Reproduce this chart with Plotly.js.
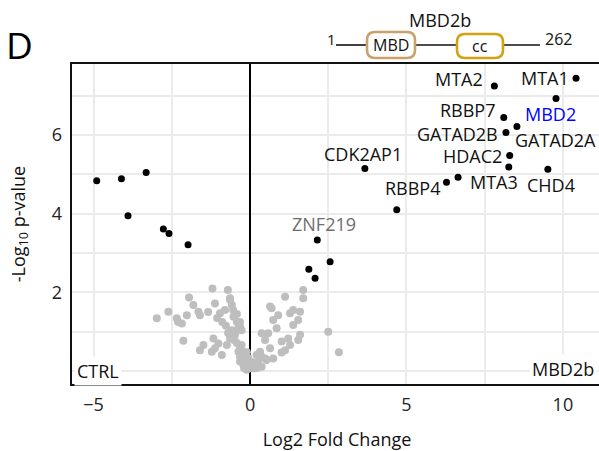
<!DOCTYPE html>
<html>
<head>
<meta charset="utf-8">
<script src="https://cdn.plot.ly/plotly-3.0.1.min.js"></script>
<style>
html,body{margin:0;padding:0;overflow:hidden;background:#fff;}
#chart{width:610px;height:451px;}
</style>
</head>
<body>
<div id="chart"></div>
<script>
// ---- Data ----
const grayX = [-1.20,-0.71,-1.95,-1.81,-2.61,-2.98,-2.34,-2.02,-1.65,-1.60,-2.18,-2.30,-1.12,-0.96,-0.80,-0.64,-0.58,-0.53,-0.42,-0.37,
  -0.58,-0.48,-0.64,-2.13,-1.17,-1.01,-1.49,-1.60,-1.22,-0.90,-0.74,-0.32,-0.37,-0.27,-0.16,-0.21,-0.11,-0.32,-1.12,-0.64,
  -0.32,-0.27,0.00,-0.11,0.05,-0.32,-0.06,0.06,0.16,-0.19,0.22,0.26,-0.10,-0.42,-0.51,-0.70,-0.77,-0.89,-1.05,-1.34,
  -0.54,-0.42,1.70,1.12,1.70,0.69,0.90,0.74,1.38,1.60,1.28,1.54,1.38,0.85,0.37,0.48,1.22,1.60,1.54,1.28,
  1.12,1.01,0.74,0.53,0.32,0.37,0.21,0.37,2.50,2.84,-0.21,-0.27,-0.32,-0.11,0.11,0.64,0.58,1.01,0.64,0.48];
const grayY = [2.10,2.06,1.87,1.68,1.51,1.34,1.34,1.42,1.51,1.42,1.21,1.25,1.72,1.47,1.55,1.81,1.68,1.38,1.25,1.09,
  1.04,0.92,0.83,0.77,0.83,0.70,0.66,0.53,0.49,0.41,0.66,0.62,0.49,0.41,0.28,0.15,0.07,0.24,0.58,1.85,
  1.13,0.66,0.07,0.03,0.15,0.36,0.33,0.23,0.13,0.08,0.08,0.23,0.48,0.71,0.79,0.97,1.15,1.25,1.35,1.50,
  1.55,1.45,2.06,1.89,1.85,1.60,1.42,1.30,1.55,1.51,1.47,1.30,1.17,1.09,0.96,0.79,0.83,0.92,0.79,0.66,
  0.53,0.47,0.32,0.28,0.49,0.36,0.41,0.11,1.00,0.48,0.49,1.04,1.25,0.24,0.07,1.64,0.96,0.75,0.58,0.32];

const hitX = [10.42,7.81,9.78,8.11,8.53,8.18,8.30,8.27,9.52,6.65,6.28,3.67,4.69,2.15,2.56,1.88,2.08,
  -4.90,-4.11,-3.32,-3.90,-2.77,-2.59,-1.98];
const hitY = [7.45,7.25,6.93,6.45,6.22,6.07,5.48,5.19,5.13,4.93,4.80,5.15,4.10,3.33,2.78,2.59,2.36,
  4.84,4.89,5.05,3.95,3.61,3.50,3.21];
const hitNames = ['MTA1','MTA2','MBD2','RBBP7','GATAD2A','GATAD2B','HDAC2','','CHD4','MTA3','RBBP4','CDK2AP1','','ZNF219','','','',
  '','','','','','',''];

const xTickVals = [-5,0,5,10];
const xMinorVals = [-2.5,2.5,7.5];
const yTickVals = [2,4,6];
const yMinorVals = [0,1,3,5,7];

// ---- Label placement (style only) ----
const place = {
  MTA1:{xanchor:'right',xshift:-5,yshift:0},
  MTA2:{xanchor:'right',xshift:-9,yshift:7},
  MBD2:{xanchor:'center',xshift:-6,yshift:-15,color:'#0000FF'},
  RBBP7:{xanchor:'right',xshift:-6,yshift:7},
  GATAD2A:{xanchor:'left',xshift:-4,yshift:-13},
  GATAD2B:{xanchor:'right',xshift:-6,yshift:-2},
  HDAC2:{xanchor:'right',xshift:-6,yshift:0},
  MTA3:{xanchor:'left',xshift:10,yshift:-5},
  CHD4:{xanchor:'center',xshift:3,yshift:-16},
  RBBP4:{xanchor:'right',xshift:-4,yshift:-6},
  CDK2AP1:{xanchor:'center',xshift:-2,yshift:15},
  ZNF219:{xanchor:'center',xshift:7,yshift:16,color:'#6e6e6e'}
};

const FONT = '"Open Sans", "Noto Sans", sans-serif';
const W = 610, H = 451;
const M = {l:72, r:8, t:64, b:67};
const PL = M.l, PR = W - M.r, PT = M.t, PB = H - M.b;
const px = p => (p - PL) / (PR - PL);
const py = p => (PB - p) / (PB - PT);

function roundRect(x0, y0, x1, y1, r) {
  const a = (X, Y) => px(X) + ',' + py(Y);
  return 'M' + a(x0 + r, y0) + ' L' + a(x1 - r, y0) + ' Q' + a(x1, y0) + ' ' + a(x1, y0 + r) +
    ' L' + a(x1, y1 - r) + ' Q' + a(x1, y1) + ' ' + a(x1 - r, y1) +
    ' L' + a(x0 + r, y1) + ' Q' + a(x0, y1) + ' ' + a(x0, y1 - r) +
    ' L' + a(x0, y0 + r) + ' Q' + a(x0, y0) + ' ' + a(x0 + r, y0) + ' Z';
}
function hline(x0, x1, y) {
  return {type:'line', xref:'paper', yref:'paper', x0:px(x0), x1:px(x1), y0:py(y), y1:py(y),
    line:{color:'#111', width:1.6}};
}

const traces = [
  {type:'scatter', mode:'markers', x:grayX, y:grayY, hoverinfo:'skip',
   marker:{color:'#BEBEBE', size:8, line:{width:0}}},
  {type:'scatter', mode:'markers', x:hitX, y:hitY, text:hitNames,
   marker:{color:'#000000', size:7, line:{width:0}}}
];

const annotations = [];
hitNames.forEach((n, i) => {
  if (!n) return;
  const p = place[n] || {xanchor:'center', xshift:0, yshift:12};
  annotations.push({x:hitX[i], y:hitY[i], xref:'x', yref:'y', text:n, showarrow:false,
    xanchor:p.xanchor, yanchor:'middle', xshift:p.xshift, yshift:p.yshift,
    font:{family:FONT, size:18, color:p.color || '#111'}});
});
// corner labels
annotations.push({xref:'paper', yref:'y', x:0, y:0, xanchor:'left', yanchor:'middle', xshift:2,
  text:'CTRL', showarrow:false, bgcolor:'#fff', borderpad:2, font:{family:FONT, size:18, color:'#111'}});
annotations.push({xref:'paper', yref:'y', x:px(597), y:0, xanchor:'right', yanchor:'middle', yshift:2,
  text:'MBD2b', showarrow:false, bgcolor:'#fff', borderpad:2, font:{family:FONT, size:18, color:'#111'}});
// panel letter
annotations.push({xref:'paper', yref:'paper', x:px(19), y:py(44), xanchor:'center', yanchor:'middle',
  text:'D', showarrow:false, font:{family:FONT, size:37, color:'#000'}});
// protein diagram texts
annotations.push({xref:'paper', yref:'paper', x:px(440), y:py(20), xanchor:'center', yanchor:'middle',
  text:'MBD2b', showarrow:false, font:{family:FONT, size:18, color:'#111'}});
annotations.push({xref:'paper', yref:'paper', x:px(331), y:py(39), xanchor:'center', yanchor:'middle',
  text:'1', showarrow:false, font:{family:FONT, size:15, color:'#111'}});
annotations.push({xref:'paper', yref:'paper', x:px(558), y:py(39), xanchor:'center', yanchor:'middle',
  text:'262', showarrow:false, font:{family:FONT, size:16, color:'#111'}});
annotations.push({xref:'paper', yref:'paper', x:px(391), y:py(45), xanchor:'center', yanchor:'middle',
  text:'MBD', showarrow:false, font:{family:FONT, size:16, color:'#111'}});
annotations.push({xref:'paper', yref:'paper', x:px(480), y:py(46), xanchor:'center', yanchor:'middle',
  text:'cc', showarrow:false, font:{family:FONT, size:16, color:'#111'}});

const shapes = [
  hline(336, 367, 45), hline(415, 457, 45), hline(503, 540, 45),
  {type:'path', xref:'paper', yref:'paper', path:roundRect(367, 32, 415, 58, 8),
   line:{color:'#C9A26B', width:2.6}, fillcolor:'rgba(0,0,0,0)'},
  {type:'path', xref:'paper', yref:'paper', path:roundRect(457, 34, 503, 58, 8),
   line:{color:'#D2A212', width:2.6}, fillcolor:'rgba(0,0,0,0)'}
];

const gridStyle = {gridcolor:'#EBEBEB', gridwidth:2};
const layout = {
  width:W, height:H, margin:M, paper_bgcolor:'#fff', plot_bgcolor:'#fff',
  showlegend:false, font:{family:FONT, size:18, color:'#111'},
  xaxis:Object.assign({range:[-5.69, 11.25], tickmode:'array', tickvals:xTickVals, showgrid:true,
    minor:Object.assign({tickmode:'array', tickvals:xMinorVals, showgrid:true, ticks:''}, gridStyle),
    zeroline:true, zerolinecolor:'#000', zerolinewidth:2.8,
    showline:true, mirror:true, linecolor:'#111', linewidth:2.4, ticks:'', ticklabelstandoff:3,
    tickfont:{family:FONT, size:18, color:'#222'},
    title:{text:'Log2 Fold Change', font:{family:FONT, size:18, color:'#111'}, standoff:20}}, gridStyle),
  yaxis:Object.assign({range:[-0.33, 7.81], tickmode:'array', tickvals:yTickVals, showgrid:true,
    minor:Object.assign({tickmode:'array', tickvals:yMinorVals, showgrid:true, ticks:''}, gridStyle),
    zeroline:false,
    showline:true, mirror:true, linecolor:'#111', linewidth:2.4, ticks:'', ticklabelstandoff:4,
    tickfont:{family:FONT, size:18, color:'#222'},
    title:{text:'-Log<sub>10</sub> p-value', font:{family:FONT, size:18, color:'#111'}, standoff:22}}, gridStyle),
  annotations:annotations, shapes:shapes
};

Plotly.newPlot('chart', traces, layout, {staticPlot:true, displayModeBar:false});
</script>
</body>
</html>
